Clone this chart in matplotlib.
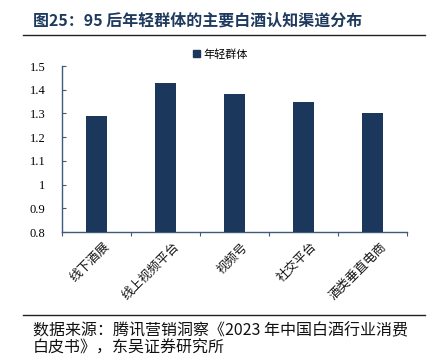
import matplotlib.pyplot as plt
from matplotlib.lines import Line2D
from matplotlib.patches import Patch

plt.rcParams['font.family'] = ['Noto Sans CJK SC', 'DejaVu Sans']

categories = ['线下酒展', '线上视频平台', '视频号', '社交平台', '酒类垂直电商']
values = [1.29, 1.43, 1.38, 1.35, 1.30]
yticks = [0.8, 0.9, 1.0, 1.1, 1.2, 1.3, 1.4, 1.5]
ytick_labels = ['0.8', '0.9', '1', '1.1', '1.2', '1.3', '1.4', '1.5']
series_name = '年轻群体'

bar_color = '#1b375c'
axis_color = '#3f5a7a'

fig = plt.figure(figsize=(4.34, 3.57), dpi=100)
ax = fig.add_axes([62 / 434, 1 - 232 / 357, 345 / 434, 166 / 357])

x = range(len(categories))
ax.bar(x, values, width=0.31, color=bar_color, zorder=3)

ax.set_xlim(-0.5, len(categories) - 0.5)
ax.set_ylim(0.8, 1.5)
ax.set_yticks(yticks)
ax.set_yticklabels(ytick_labels, fontfamily='Liberation Serif', fontsize=9)
ax.tick_params(axis='y', direction='in', length=3, color=axis_color, pad=12)

# x ticks at category boundaries, labels in between
ax.set_xticks([i - 0.5 for i in range(len(categories) + 1)])
ax.set_xticklabels([])
ax.tick_params(axis='x', direction='out', length=3, color=axis_color)
for i, c in enumerate(categories):
    ax.annotate(c, (i, 0.8), xycoords='data', xytext=(5, -6), textcoords='offset points',
                rotation=45, ha='right', va='top', rotation_mode='anchor', fontsize=9,
                color='#111111')

for side in ['top', 'right']:
    ax.spines[side].set_visible(False)
for side in ['left', 'bottom']:
    ax.spines[side].set_color(axis_color)
    ax.spines[side].set_linewidth(1.0)

# legend
ax.legend(handles=[Patch(color=bar_color, label=series_name)],
          loc='center', bbox_to_anchor=(0.46, 1.07), frameon=False,
          fontsize=8, handlelength=0.6, handleheight=0.6, handletextpad=0.3)

# title and rules
fig.text(33 / 434, 1 - 21 / 357, '图25：95 后年轻群体的主要白酒认知渠道分布', fontsize=11.5,
         fontweight='bold', color='#1f3a5f', va='center', ha='left')
fig.add_artist(Line2D([23 / 434, 425 / 434], [1 - 35 / 357, 1 - 35 / 357],
                      color='#222222', lw=1.0))
fig.add_artist(Line2D([23 / 434, 425 / 434], [1 - 315 / 357, 1 - 315 / 357],
                      color='#222222', lw=1.0))
fig.text(33 / 434, 1 - 331 / 357, '数据来源：腾讯营销洞察《2023 年中国白酒行业消费',
         fontsize=11.5, color='#111111', va='center', ha='left')
fig.text(33 / 434, 1 - 348 / 357, '白皮书》，东吴证券研究所',
         fontsize=11.5, color='#111111', va='center', ha='left')

fig.savefig('out.png', dpi=100)
